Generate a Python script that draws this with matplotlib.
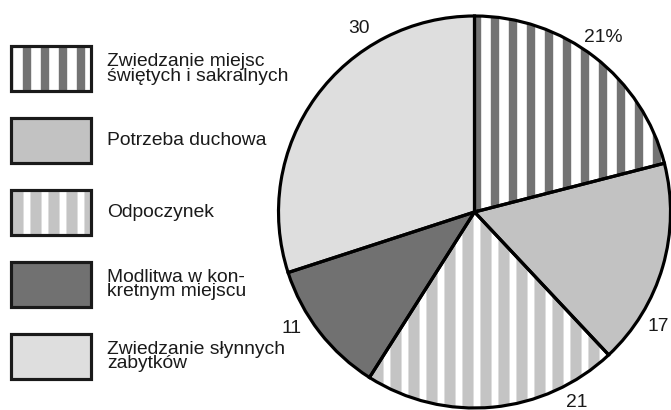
import numpy as np
import matplotlib
matplotlib.use("Agg")
import matplotlib.pyplot as plt
from matplotlib.patches import Rectangle, Wedge

# --- data ---
CATEGORIES = [
    "Zwiedzanie miejsc\nświętych i sakralnych",
    "Potrzeba duchowa",
    "Odpoczynek",
    "Modlitwa w kon-\nkretnym miejscu",
    "Zwiedzanie słynnych\nzabytków",
]
SHARES = [21, 17, 21, 11, 30]
SHARE_LABELS = ["21%", "17", "21", "11", "30"]

# --- style ---
# (face colour, hatch colour or None, hatch line width in pt)
STYLES = [
    ("white", "#737373", 5.6),
    ("#c2c2c2", None, 0),
    ("#c4c4c4", "white", 4.6),
    ("#717171", None, 0),
    ("#dedede", None, 0),
]
LABEL_ANGLES = [53.5, -32.0, -61.7, -147.4, 122.2]   # degrees, where each number sits
LABEL_DIST = 1.105

plt.rcParams['font.family'] = ['Liberation Sans', 'DejaVu Sans']
FONT_SIZE = 12.8
DPI = 108
W, H = 671, 410
EDGE_LW = 2.1

CENTER = (474.5, 198.0)
RADIUS = 196.0


def apply_style(patch, face, hatch_color, hatch_lw):
    patch.set_facecolor(face)
    patch.set_linewidth(0)
    if hatch_color is not None:
        patch.set_edgecolor(hatch_color)
        patch.set_hatch('|')
        if hasattr(patch, 'set_hatch_linewidth'):
            patch.set_hatch_linewidth(hatch_lw)
        else:
            plt.rcParams['hatch.linewidth'] = hatch_lw


fig = plt.figure(figsize=(6.2131, 3.7963), dpi=DPI)
ax = fig.add_axes([0, 0, 1, 1])

wedges, _ = ax.pie(SHARES, startangle=90, counterclock=False,
                   radius=RADIUS, center=CENTER, frame=False)
for w, (face, hc, hlw) in zip(wedges, STYLES):
    apply_style(w, face, hc, hlw)
    ax.add_patch(Wedge(w.center, w.r, w.theta1, w.theta2, fill=False,
                       edgecolor='black', linewidth=EDGE_LW, zorder=3))

for txt, ang in zip(SHARE_LABELS, LABEL_ANGLES):
    a = np.deg2rad(ang)
    ax.text(CENTER[0] + LABEL_DIST * RADIUS * np.cos(a),
            CENTER[1] + LABEL_DIST * RADIUS * np.sin(a),
            txt, ha='center', va='center', fontsize=FONT_SIZE, color='#1a1a1a')

# --- legend (left column) ---
box_x, box_w, box_h = 10.8, 80.0, 45.0
first_center, step = 341.0, 71.8
for i, (name, (face, hc, hlw)) in enumerate(zip(CATEGORIES, STYLES)):
    cy = first_center - i * step
    r = Rectangle((box_x, cy - box_h / 2), box_w, box_h)
    apply_style(r, face, hc, hlw)
    ax.add_patch(r)
    ax.add_patch(Rectangle((box_x, cy - box_h / 2), box_w, box_h, fill=False,
                           edgecolor='#1a1a1a', linewidth=EDGE_LW, zorder=3))
    ax.text(107.0, cy, name, ha='left', va='center', fontsize=FONT_SIZE,
            linespacing=0.8, color='#1a1a1a')

ax.set_xlim(0, W)
ax.set_ylim(0, H)
ax.set_aspect('auto')
ax.axis('off')

fig.savefig('out.png', dpi=DPI, facecolor='white')
